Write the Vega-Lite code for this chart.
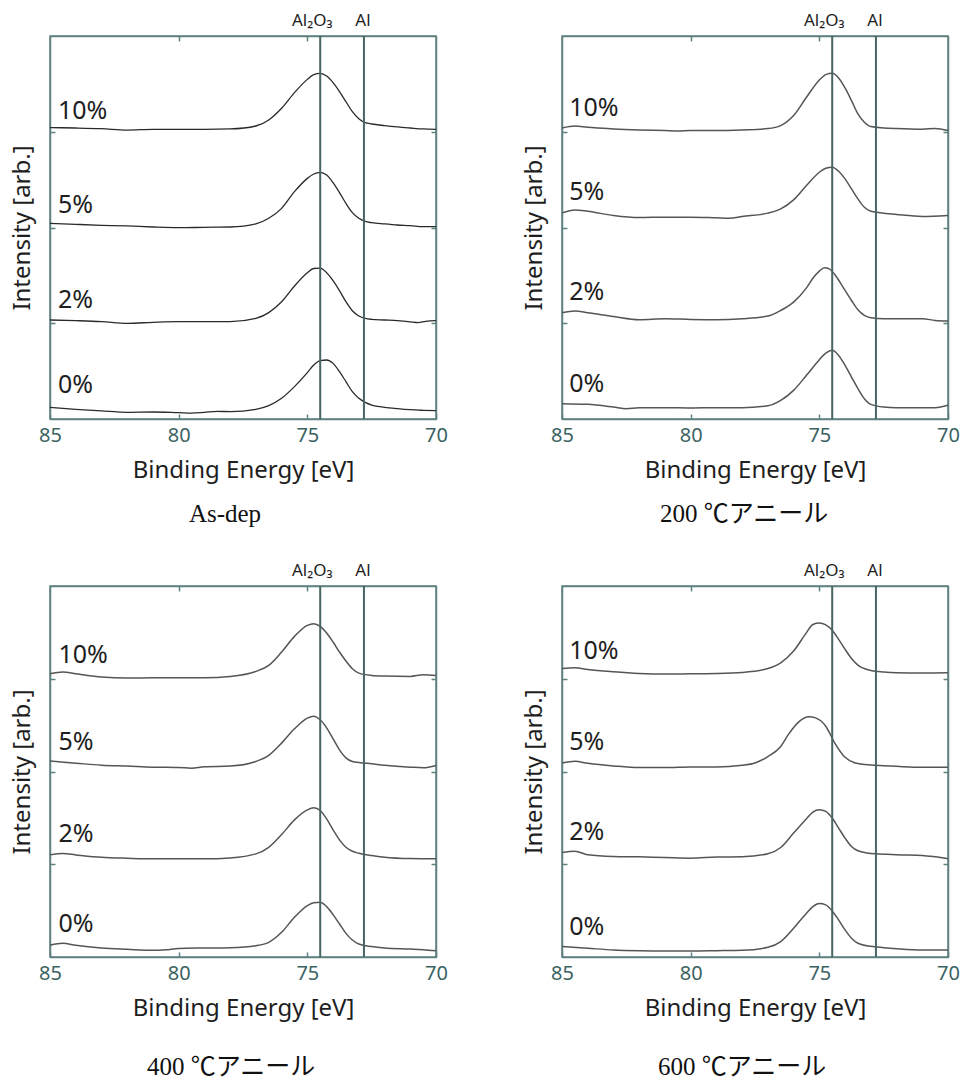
{
  "$schema": "https://vega.github.io/schema/vega-lite/v6.json",
  "background": "white",
  "padding": {"left": 9, "top": 11, "right": 5, "bottom": 5},
  "config": {
    "view": {"stroke": "#5f8080", "strokeWidth": 1.5},
    "axis": {
      "grid": false,
      "domainColor": "#5f8080", "domainWidth": 1.5,
      "tickColor": "#5f8080", "tickWidth": 1.5,
      "labelFont": "Noto Sans", "titleFont": "Noto Sans",
      "titleFontWeight": "normal", "titleColor": "#1e1e1e"
    },
    "text": {"font": "Noto Sans", "color": "#1e1e1e"}
  },
  "datasets": {
    "refs": [
      {"ref": "Al₂O₃", "e": 74.5},
      {"ref": "Al", "e": 72.8}
    ],
    "labels": [
      {"p": "A", "s": "10%", "e": 84.69, "i": 3.13},
      {"p": "A", "s": "5%", "e": 84.69, "i": 2.155},
      {"p": "A", "s": "2%", "e": 84.69, "i": 1.156},
      {"p": "A", "s": "0%", "e": 84.69, "i": 0.268},
      {"p": "B", "s": "10%", "e": 84.72, "i": 3.169},
      {"p": "B", "s": "5%", "e": 84.72, "i": 2.292},
      {"p": "B", "s": "2%", "e": 84.72, "i": 1.238},
      {"p": "B", "s": "0%", "e": 84.72, "i": 0.282},
      {"p": "C", "s": "10%", "e": 84.67, "i": 3.169},
      {"p": "C", "s": "5%", "e": 84.67, "i": 2.234},
      {"p": "C", "s": "2%", "e": 84.67, "i": 1.237},
      {"p": "C", "s": "0%", "e": 84.67, "i": 0.266},
      {"p": "D", "s": "10%", "e": 84.72, "i": 3.209},
      {"p": "D", "s": "5%", "e": 84.72, "i": 2.236},
      {"p": "D", "s": "2%", "e": 84.72, "i": 1.257},
      {"p": "D", "s": "0%", "e": 84.72, "i": 0.238}
    ],
    "spectra": [
      {"p":"A","s":"10%","e":85,"i":3.043},{"p":"A","s":"10%","e":84,"i":3.039},{"p":"A","s":"10%","e":83,"i":3.032},{"p":"A","s":"10%","e":82,"i":3.018},{"p":"A","s":"10%","e":81,"i":3.025},{"p":"A","s":"10%","e":80,"i":3.025},{"p":"A","s":"10%","e":79,"i":3.025},{"p":"A","s":"10%","e":78,"i":3.029},{"p":"A","s":"10%","e":77,"i":3.06},{"p":"A","s":"10%","e":76.5,"i":3.123},{"p":"A","s":"10%","e":76,"i":3.245},{"p":"A","s":"10%","e":75.5,"i":3.408},{"p":"A","s":"10%","e":75,"i":3.547},{"p":"A","s":"10%","e":74.75,"i":3.596},{"p":"A","s":"10%","e":74.5,"i":3.61},{"p":"A","s":"10%","e":74.25,"i":3.582},{"p":"A","s":"10%","e":74,"i":3.513},{"p":"A","s":"10%","e":73.75,"i":3.419},{"p":"A","s":"10%","e":73.5,"i":3.314},{"p":"A","s":"10%","e":73.25,"i":3.21},{"p":"A","s":"10%","e":73,"i":3.137},{"p":"A","s":"10%","e":72.75,"i":3.095},{"p":"A","s":"10%","e":72.5,"i":3.081},{"p":"A","s":"10%","e":72,"i":3.064},{"p":"A","s":"10%","e":71.5,"i":3.05},{"p":"A","s":"10%","e":71,"i":3.039},{"p":"A","s":"10%","e":70.5,"i":3.029},{"p":"A","s":"10%","e":70,"i":3.025},
      {"p":"A","s":"5%","e":85,"i":2.044},{"p":"A","s":"5%","e":84,"i":2.033},{"p":"A","s":"5%","e":83,"i":2.023},{"p":"A","s":"5%","e":82,"i":2.016},{"p":"A","s":"5%","e":81,"i":2.005},{"p":"A","s":"5%","e":80,"i":1.998},{"p":"A","s":"5%","e":79,"i":2.002},{"p":"A","s":"5%","e":78,"i":2.005},{"p":"A","s":"5%","e":77,"i":2.037},{"p":"A","s":"5%","e":76.5,"i":2.096},{"p":"A","s":"5%","e":76,"i":2.2},{"p":"A","s":"5%","e":75.5,"i":2.374},{"p":"A","s":"5%","e":75,"i":2.513},{"p":"A","s":"5%","e":74.75,"i":2.559},{"p":"A","s":"5%","e":74.5,"i":2.576},{"p":"A","s":"5%","e":74.25,"i":2.548},{"p":"A","s":"5%","e":74,"i":2.468},{"p":"A","s":"5%","e":73.75,"i":2.364},{"p":"A","s":"5%","e":73.5,"i":2.252},{"p":"A","s":"5%","e":73.25,"i":2.155},{"p":"A","s":"5%","e":73,"i":2.096},{"p":"A","s":"5%","e":72.75,"i":2.064},{"p":"A","s":"5%","e":72.5,"i":2.05},{"p":"A","s":"5%","e":72,"i":2.037},{"p":"A","s":"5%","e":71.5,"i":2.026},{"p":"A","s":"5%","e":71,"i":2.019},{"p":"A","s":"5%","e":70.5,"i":2.009},{"p":"A","s":"5%","e":70,"i":2.009},
      {"p":"A","s":"2%","e":85,"i":1.034},{"p":"A","s":"2%","e":84,"i":1.027},{"p":"A","s":"2%","e":83,"i":1.017},{"p":"A","s":"2%","e":82,"i":0.999},{"p":"A","s":"2%","e":81,"i":1.01},{"p":"A","s":"2%","e":80,"i":1.017},{"p":"A","s":"2%","e":79,"i":1.017},{"p":"A","s":"2%","e":78,"i":1.017},{"p":"A","s":"2%","e":77,"i":1.051},{"p":"A","s":"2%","e":76.5,"i":1.111},{"p":"A","s":"2%","e":76,"i":1.225},{"p":"A","s":"2%","e":75.5,"i":1.389},{"p":"A","s":"2%","e":75,"i":1.528},{"p":"A","s":"2%","e":74.75,"i":1.572},{"p":"A","s":"2%","e":74.5,"i":1.575},{"p":"A","s":"2%","e":74.25,"i":1.528},{"p":"A","s":"2%","e":74,"i":1.445},{"p":"A","s":"2%","e":73.75,"i":1.34},{"p":"A","s":"2%","e":73.5,"i":1.225},{"p":"A","s":"2%","e":73.25,"i":1.131},{"p":"A","s":"2%","e":73,"i":1.076},{"p":"A","s":"2%","e":72.75,"i":1.051},{"p":"A","s":"2%","e":72.5,"i":1.041},{"p":"A","s":"2%","e":72,"i":1.034},{"p":"A","s":"2%","e":71.5,"i":1.027},{"p":"A","s":"2%","e":71,"i":1.015},{"p":"A","s":"2%","e":70.7,"i":1.006},{"p":"A","s":"2%","e":70.4,"i":1.02},{"p":"A","s":"2%","e":70,"i":1.027},
      {"p":"A","s":"0%","e":85,"i":0.122},{"p":"A","s":"0%","e":84,"i":0.101},{"p":"A","s":"0%","e":83,"i":0.084},{"p":"A","s":"0%","e":82,"i":0.07},{"p":"A","s":"0%","e":81,"i":0.073},{"p":"A","s":"0%","e":80,"i":0.066},{"p":"A","s":"0%","e":79.5,"i":0.062},{"p":"A","s":"0%","e":79,"i":0.07},{"p":"A","s":"0%","e":78.5,"i":0.08},{"p":"A","s":"0%","e":78,"i":0.077},{"p":"A","s":"0%","e":77,"i":0.101},{"p":"A","s":"0%","e":76.5,"i":0.139},{"p":"A","s":"0%","e":76,"i":0.216},{"p":"A","s":"0%","e":75.5,"i":0.338},{"p":"A","s":"0%","e":75,"i":0.484},{"p":"A","s":"0%","e":74.75,"i":0.564},{"p":"A","s":"0%","e":74.5,"i":0.609},{"p":"A","s":"0%","e":74.25,"i":0.616},{"p":"A","s":"0%","e":74,"i":0.581},{"p":"A","s":"0%","e":73.75,"i":0.494},{"p":"A","s":"0%","e":73.5,"i":0.39},{"p":"A","s":"0%","e":73.25,"i":0.285},{"p":"A","s":"0%","e":73,"i":0.216},{"p":"A","s":"0%","e":72.75,"i":0.174},{"p":"A","s":"0%","e":72.5,"i":0.146},{"p":"A","s":"0%","e":72,"i":0.122},{"p":"A","s":"0%","e":71.5,"i":0.108},{"p":"A","s":"0%","e":71,"i":0.097},{"p":"A","s":"0%","e":70.5,"i":0.091},{"p":"A","s":"0%","e":70,"i":0.087},
      {"p":"B","s":"10%","e":85,"i":3.04},{"p":"B","s":"10%","e":84.5,"i":3.061},{"p":"B","s":"10%","e":84,"i":3.047},{"p":"B","s":"10%","e":83,"i":3.03},{"p":"B","s":"10%","e":82,"i":3.019},{"p":"B","s":"10%","e":81,"i":3.012},{"p":"B","s":"10%","e":80.5,"i":3.007},{"p":"B","s":"10%","e":80,"i":3.012},{"p":"B","s":"10%","e":79,"i":3.012},{"p":"B","s":"10%","e":78,"i":3.019},{"p":"B","s":"10%","e":77,"i":3.033},{"p":"B","s":"10%","e":76.5,"i":3.064},{"p":"B","s":"10%","e":76,"i":3.169},{"p":"B","s":"10%","e":75.5,"i":3.36},{"p":"B","s":"10%","e":75,"i":3.54},{"p":"B","s":"10%","e":74.75,"i":3.597},{"p":"B","s":"10%","e":74.5,"i":3.61},{"p":"B","s":"10%","e":74.25,"i":3.562},{"p":"B","s":"10%","e":74,"i":3.457},{"p":"B","s":"10%","e":73.75,"i":3.325},{"p":"B","s":"10%","e":73.5,"i":3.186},{"p":"B","s":"10%","e":73.25,"i":3.099},{"p":"B","s":"10%","e":73,"i":3.054},{"p":"B","s":"10%","e":72.5,"i":3.04},{"p":"B","s":"10%","e":72,"i":3.033},{"p":"B","s":"10%","e":71,"i":3.026},{"p":"B","s":"10%","e":70.5,"i":3.035},{"p":"B","s":"10%","e":70,"i":3.012},
      {"p":"B","s":"5%","e":85,"i":2.153},{"p":"B","s":"5%","e":84.5,"i":2.184},{"p":"B","s":"5%","e":84,"i":2.17},{"p":"B","s":"5%","e":83,"i":2.125},{"p":"B","s":"5%","e":82,"i":2.104},{"p":"B","s":"5%","e":81,"i":2.108},{"p":"B","s":"5%","e":80,"i":2.108},{"p":"B","s":"5%","e":79,"i":2.101},{"p":"B","s":"5%","e":78.5,"i":2.097},{"p":"B","s":"5%","e":78,"i":2.115},{"p":"B","s":"5%","e":77,"i":2.15},{"p":"B","s":"5%","e":76.5,"i":2.195},{"p":"B","s":"5%","e":76,"i":2.289},{"p":"B","s":"5%","e":75.5,"i":2.438},{"p":"B","s":"5%","e":75,"i":2.577},{"p":"B","s":"5%","e":74.75,"i":2.619},{"p":"B","s":"5%","e":74.5,"i":2.63},{"p":"B","s":"5%","e":74.25,"i":2.588},{"p":"B","s":"5%","e":74,"i":2.508},{"p":"B","s":"5%","e":73.75,"i":2.403},{"p":"B","s":"5%","e":73.5,"i":2.299},{"p":"B","s":"5%","e":73.25,"i":2.212},{"p":"B","s":"5%","e":73,"i":2.17},{"p":"B","s":"5%","e":72.5,"i":2.15},{"p":"B","s":"5%","e":72,"i":2.136},{"p":"B","s":"5%","e":71,"i":2.115},{"p":"B","s":"5%","e":70,"i":2.125},
      {"p":"B","s":"2%","e":85,"i":1.11},{"p":"B","s":"2%","e":84.5,"i":1.127},{"p":"B","s":"2%","e":84,"i":1.11},{"p":"B","s":"2%","e":83,"i":1.071},{"p":"B","s":"2%","e":82,"i":1.037},{"p":"B","s":"2%","e":81,"i":1.047},{"p":"B","s":"2%","e":80,"i":1.04},{"p":"B","s":"2%","e":79,"i":1.037},{"p":"B","s":"2%","e":78,"i":1.047},{"p":"B","s":"2%","e":77,"i":1.075},{"p":"B","s":"2%","e":76.5,"i":1.134},{"p":"B","s":"2%","e":76,"i":1.221},{"p":"B","s":"2%","e":75.5,"i":1.37},{"p":"B","s":"2%","e":75.25,"i":1.47},{"p":"B","s":"2%","e":75,"i":1.545},{"p":"B","s":"2%","e":74.8,"i":1.58},{"p":"B","s":"2%","e":74.6,"i":1.566},{"p":"B","s":"2%","e":74.4,"i":1.51},{"p":"B","s":"2%","e":74.2,"i":1.43},{"p":"B","s":"2%","e":74,"i":1.343},{"p":"B","s":"2%","e":73.75,"i":1.238},{"p":"B","s":"2%","e":73.5,"i":1.141},{"p":"B","s":"2%","e":73.25,"i":1.082},{"p":"B","s":"2%","e":73,"i":1.057},{"p":"B","s":"2%","e":72.5,"i":1.047},{"p":"B","s":"2%","e":72,"i":1.047},{"p":"B","s":"2%","e":71,"i":1.047},{"p":"B","s":"2%","e":70.5,"i":1.03},{"p":"B","s":"2%","e":70,"i":1.023},
      {"p":"B","s":"0%","e":85,"i":0.16},{"p":"B","s":"0%","e":84,"i":0.153},{"p":"B","s":"0%","e":83,"i":0.125},{"p":"B","s":"0%","e":82.5,"i":0.108},{"p":"B","s":"0%","e":82,"i":0.118},{"p":"B","s":"0%","e":81,"i":0.118},{"p":"B","s":"0%","e":80,"i":0.115},{"p":"B","s":"0%","e":79,"i":0.118},{"p":"B","s":"0%","e":78,"i":0.118},{"p":"B","s":"0%","e":77,"i":0.139},{"p":"B","s":"0%","e":76.5,"i":0.195},{"p":"B","s":"0%","e":76,"i":0.299},{"p":"B","s":"0%","e":75.5,"i":0.456},{"p":"B","s":"0%","e":75,"i":0.619},{"p":"B","s":"0%","e":74.75,"i":0.689},{"p":"B","s":"0%","e":74.5,"i":0.717},{"p":"B","s":"0%","e":74.25,"i":0.664},{"p":"B","s":"0%","e":74,"i":0.56},{"p":"B","s":"0%","e":73.75,"i":0.438},{"p":"B","s":"0%","e":73.5,"i":0.317},{"p":"B","s":"0%","e":73.25,"i":0.212},{"p":"B","s":"0%","e":73,"i":0.153},{"p":"B","s":"0%","e":72.5,"i":0.125},{"p":"B","s":"0%","e":72,"i":0.118},{"p":"B","s":"0%","e":71,"i":0.118},{"p":"B","s":"0%","e":70.5,"i":0.118},{"p":"B","s":"0%","e":70,"i":0.143},
      {"p":"C","s":"10%","e":85,"i":3.054},{"p":"C","s":"10%","e":84.5,"i":3.072},{"p":"C","s":"10%","e":84,"i":3.054},{"p":"C","s":"10%","e":83,"i":3.018},{"p":"C","s":"10%","e":82,"i":3.007},{"p":"C","s":"10%","e":81,"i":3.011},{"p":"C","s":"10%","e":80,"i":3.011},{"p":"C","s":"10%","e":79,"i":3.011},{"p":"C","s":"10%","e":78,"i":3.025},{"p":"C","s":"10%","e":77,"i":3.079},{"p":"C","s":"10%","e":76.5,"i":3.144},{"p":"C","s":"10%","e":76,"i":3.288},{"p":"C","s":"10%","e":75.5,"i":3.457},{"p":"C","s":"10%","e":75,"i":3.576},{"p":"C","s":"10%","e":74.75,"i":3.594},{"p":"C","s":"10%","e":74.5,"i":3.565},{"p":"C","s":"10%","e":74.25,"i":3.493},{"p":"C","s":"10%","e":74,"i":3.396},{"p":"C","s":"10%","e":73.75,"i":3.288},{"p":"C","s":"10%","e":73.5,"i":3.191},{"p":"C","s":"10%","e":73.25,"i":3.108},{"p":"C","s":"10%","e":73,"i":3.061},{"p":"C","s":"10%","e":72.5,"i":3.036},{"p":"C","s":"10%","e":72,"i":3.029},{"p":"C","s":"10%","e":71,"i":3.025},{"p":"C","s":"10%","e":70.5,"i":3.043},{"p":"C","s":"10%","e":70,"i":3.036},
      {"p":"C","s":"5%","e":85,"i":2.112},{"p":"C","s":"5%","e":84,"i":2.09},{"p":"C","s":"5%","e":83,"i":2.068},{"p":"C","s":"5%","e":82,"i":2.058},{"p":"C","s":"5%","e":81,"i":2.047},{"p":"C","s":"5%","e":80,"i":2.043},{"p":"C","s":"5%","e":79.5,"i":2.036},{"p":"C","s":"5%","e":79,"i":2.052},{"p":"C","s":"5%","e":78,"i":2.058},{"p":"C","s":"5%","e":77,"i":2.108},{"p":"C","s":"5%","e":76.5,"i":2.173},{"p":"C","s":"5%","e":76,"i":2.306},{"p":"C","s":"5%","e":75.5,"i":2.46},{"p":"C","s":"5%","e":75,"i":2.576},{"p":"C","s":"5%","e":74.75,"i":2.597},{"p":"C","s":"5%","e":74.5,"i":2.558},{"p":"C","s":"5%","e":74.25,"i":2.471},{"p":"C","s":"5%","e":74,"i":2.353},{"p":"C","s":"5%","e":73.75,"i":2.234},{"p":"C","s":"5%","e":73.5,"i":2.147},{"p":"C","s":"5%","e":73.25,"i":2.108},{"p":"C","s":"5%","e":73,"i":2.097},{"p":"C","s":"5%","e":72.5,"i":2.083},{"p":"C","s":"5%","e":72,"i":2.068},{"p":"C","s":"5%","e":71,"i":2.047},{"p":"C","s":"5%","e":70.5,"i":2.04},{"p":"C","s":"5%","e":70,"i":2.065},
      {"p":"C","s":"2%","e":85,"i":1.101},{"p":"C","s":"2%","e":84.5,"i":1.115},{"p":"C","s":"2%","e":84,"i":1.101},{"p":"C","s":"2%","e":83,"i":1.076},{"p":"C","s":"2%","e":82,"i":1.065},{"p":"C","s":"2%","e":81,"i":1.058},{"p":"C","s":"2%","e":80,"i":1.058},{"p":"C","s":"2%","e":79,"i":1.058},{"p":"C","s":"2%","e":78,"i":1.068},{"p":"C","s":"2%","e":77,"i":1.112},{"p":"C","s":"2%","e":76.5,"i":1.183},{"p":"C","s":"2%","e":76,"i":1.32},{"p":"C","s":"2%","e":75.5,"i":1.478},{"p":"C","s":"2%","e":75,"i":1.586},{"p":"C","s":"2%","e":74.75,"i":1.608},{"p":"C","s":"2%","e":74.5,"i":1.579},{"p":"C","s":"2%","e":74.25,"i":1.489},{"p":"C","s":"2%","e":74,"i":1.371},{"p":"C","s":"2%","e":73.75,"i":1.263},{"p":"C","s":"2%","e":73.5,"i":1.183},{"p":"C","s":"2%","e":73.25,"i":1.14},{"p":"C","s":"2%","e":73,"i":1.119},{"p":"C","s":"2%","e":72.5,"i":1.094},{"p":"C","s":"2%","e":72,"i":1.076},{"p":"C","s":"2%","e":71,"i":1.061},{"p":"C","s":"2%","e":70,"i":1.058},
      {"p":"C","s":"0%","e":85,"i":0.126},{"p":"C","s":"0%","e":84.5,"i":0.147},{"p":"C","s":"0%","e":84,"i":0.126},{"p":"C","s":"0%","e":83,"i":0.097},{"p":"C","s":"0%","e":82,"i":0.083},{"p":"C","s":"0%","e":81,"i":0.072},{"p":"C","s":"0%","e":80.5,"i":0.078},{"p":"C","s":"0%","e":80,"i":0.092},{"p":"C","s":"0%","e":79,"i":0.097},{"p":"C","s":"0%","e":78,"i":0.101},{"p":"C","s":"0%","e":77,"i":0.122},{"p":"C","s":"0%","e":76.5,"i":0.158},{"p":"C","s":"0%","e":76,"i":0.266},{"p":"C","s":"0%","e":75.5,"i":0.428},{"p":"C","s":"0%","e":75,"i":0.554},{"p":"C","s":"0%","e":74.75,"i":0.586},{"p":"C","s":"0%","e":74.5,"i":0.59},{"p":"C","s":"0%","e":74.25,"i":0.543},{"p":"C","s":"0%","e":74,"i":0.457},{"p":"C","s":"0%","e":73.75,"i":0.356},{"p":"C","s":"0%","e":73.5,"i":0.255},{"p":"C","s":"0%","e":73.25,"i":0.183},{"p":"C","s":"0%","e":73,"i":0.14},{"p":"C","s":"0%","e":72.5,"i":0.112},{"p":"C","s":"0%","e":72,"i":0.097},{"p":"C","s":"0%","e":71,"i":0.086},{"p":"C","s":"0%","e":70.5,"i":0.079},{"p":"C","s":"0%","e":70,"i":0.068},
      {"p":"D","s":"10%","e":85,"i":3.111},{"p":"D","s":"10%","e":84.5,"i":3.119},{"p":"D","s":"10%","e":84,"i":3.1},{"p":"D","s":"10%","e":83,"i":3.075},{"p":"D","s":"10%","e":82,"i":3.057},{"p":"D","s":"10%","e":81,"i":3.05},{"p":"D","s":"10%","e":80,"i":3.054},{"p":"D","s":"10%","e":79,"i":3.057},{"p":"D","s":"10%","e":78,"i":3.068},{"p":"D","s":"10%","e":77,"i":3.111},{"p":"D","s":"10%","e":76.5,"i":3.172},{"p":"D","s":"10%","e":76,"i":3.299},{"p":"D","s":"10%","e":75.5,"i":3.497},{"p":"D","s":"10%","e":75.25,"i":3.585},{"p":"D","s":"10%","e":75,"i":3.6},{"p":"D","s":"10%","e":74.75,"i":3.58},{"p":"D","s":"10%","e":74.5,"i":3.522},{"p":"D","s":"10%","e":74.25,"i":3.425},{"p":"D","s":"10%","e":74,"i":3.317},{"p":"D","s":"10%","e":73.75,"i":3.219},{"p":"D","s":"10%","e":73.5,"i":3.147},{"p":"D","s":"10%","e":73,"i":3.09},{"p":"D","s":"10%","e":72.5,"i":3.072},{"p":"D","s":"10%","e":72,"i":3.064},{"p":"D","s":"10%","e":71,"i":3.061},{"p":"D","s":"10%","e":70,"i":3.064},
      {"p":"D","s":"5%","e":85,"i":2.092},{"p":"D","s":"5%","e":84.5,"i":2.11},{"p":"D","s":"5%","e":84,"i":2.089},{"p":"D","s":"5%","e":83,"i":2.06},{"p":"D","s":"5%","e":82,"i":2.042},{"p":"D","s":"5%","e":81,"i":2.042},{"p":"D","s":"5%","e":80,"i":2.049},{"p":"D","s":"5%","e":79,"i":2.049},{"p":"D","s":"5%","e":78,"i":2.067},{"p":"D","s":"5%","e":77.5,"i":2.092},{"p":"D","s":"5%","e":77,"i":2.16},{"p":"D","s":"5%","e":76.5,"i":2.27},{"p":"D","s":"5%","e":76.2,"i":2.4},{"p":"D","s":"5%","e":75.8,"i":2.535},{"p":"D","s":"5%","e":75.4,"i":2.589},{"p":"D","s":"5%","e":75.15,"i":2.578},{"p":"D","s":"5%","e":74.75,"i":2.488},{"p":"D","s":"5%","e":74.4,"i":2.307},{"p":"D","s":"5%","e":74,"i":2.153},{"p":"D","s":"5%","e":73.6,"i":2.092},{"p":"D","s":"5%","e":73,"i":2.07},{"p":"D","s":"5%","e":72.5,"i":2.063},{"p":"D","s":"5%","e":72,"i":2.056},{"p":"D","s":"5%","e":71,"i":2.045},{"p":"D","s":"5%","e":70,"i":2.045},
      {"p":"D","s":"2%","e":85,"i":1.127},{"p":"D","s":"2%","e":84.5,"i":1.14},{"p":"D","s":"2%","e":84,"i":1.102},{"p":"D","s":"2%","e":83,"i":1.084},{"p":"D","s":"2%","e":82,"i":1.08},{"p":"D","s":"2%","e":81,"i":1.073},{"p":"D","s":"2%","e":80,"i":1.066},{"p":"D","s":"2%","e":79,"i":1.077},{"p":"D","s":"2%","e":78,"i":1.08},{"p":"D","s":"2%","e":77,"i":1.113},{"p":"D","s":"2%","e":76.5,"i":1.181},{"p":"D","s":"2%","e":76,"i":1.336},{"p":"D","s":"2%","e":75.5,"i":1.491},{"p":"D","s":"2%","e":75.25,"i":1.563},{"p":"D","s":"2%","e":75,"i":1.588},{"p":"D","s":"2%","e":74.75,"i":1.57},{"p":"D","s":"2%","e":74.5,"i":1.498},{"p":"D","s":"2%","e":74.25,"i":1.39},{"p":"D","s":"2%","e":74,"i":1.282},{"p":"D","s":"2%","e":73.75,"i":1.192},{"p":"D","s":"2%","e":73.5,"i":1.145},{"p":"D","s":"2%","e":73,"i":1.116},{"p":"D","s":"2%","e":72.5,"i":1.109},{"p":"D","s":"2%","e":72,"i":1.102},{"p":"D","s":"2%","e":71,"i":1.095},{"p":"D","s":"2%","e":70.5,"i":1.08},{"p":"D","s":"2%","e":70,"i":1.059},
      {"p":"D","s":"0%","e":85,"i":0.112},{"p":"D","s":"0%","e":84,"i":0.094},{"p":"D","s":"0%","e":83,"i":0.076},{"p":"D","s":"0%","e":82,"i":0.068},{"p":"D","s":"0%","e":81,"i":0.065},{"p":"D","s":"0%","e":80,"i":0.065},{"p":"D","s":"0%","e":79,"i":0.068},{"p":"D","s":"0%","e":78,"i":0.072},{"p":"D","s":"0%","e":77,"i":0.104},{"p":"D","s":"0%","e":76.5,"i":0.166},{"p":"D","s":"0%","e":76,"i":0.31},{"p":"D","s":"0%","e":75.5,"i":0.472},{"p":"D","s":"0%","e":75.25,"i":0.544},{"p":"D","s":"0%","e":75,"i":0.576},{"p":"D","s":"0%","e":74.75,"i":0.562},{"p":"D","s":"0%","e":74.5,"i":0.497},{"p":"D","s":"0%","e":74.25,"i":0.4},{"p":"D","s":"0%","e":74,"i":0.292},{"p":"D","s":"0%","e":73.75,"i":0.202},{"p":"D","s":"0%","e":73.5,"i":0.148},{"p":"D","s":"0%","e":73,"i":0.115},{"p":"D","s":"0%","e":72.5,"i":0.101},{"p":"D","s":"0%","e":72,"i":0.09},{"p":"D","s":"0%","e":71,"i":0.076},{"p":"D","s":"0%","e":70,"i":0.076}
    ]
  },
  "columns": 2,
  "bounds": "flush",
  "spacing": {"row": 167, "column": 126},
  "concat": [
    {
      "width": 386, "height": 383,
      "title": {"text": "As-dep", "orient": "bottom", "offset": 20, "dx": -18, "baseline": "top", "font": "Liberation Serif, Noto Sans CJK JP", "fontSize": 25, "fontWeight": "normal", "color": "#111"},
      "resolve": {"axis": {"x": "independent", "y": "independent"}},
      "layer": [
        {"data": {"name": "spectra"}, "transform": [{"filter": "datum.p === 'A'"}],
         "mark": {"type": "line", "interpolate": "monotone", "color": "#2a2a2a", "strokeWidth": 1.3},
         "encoding": {
           "x": {"field": "e", "type": "quantitative", "scale": {"domain": [70, 85], "reverse": true},
                 "axis": {"orient": "bottom", "values": [85, 80, 75, 70], "format": "d", "tickSize": -5, "labelPadding": 11, "labelFlush": false, "labelFontSize": 20, "labelColor": "#3b6363", "title": "Binding Energy [eV]", "titleFontSize": 24, "titlePadding": 13}},
           "y": {"field": "i", "type": "quantitative", "scale": {"domain": [0, 4]},
                 "axis": {"orient": "left", "values": [1, 2, 3], "tickSize": -5, "labels": false, "title": "Intensity [arb.]", "titleFontSize": 24, "titlePadding": 15}},
           "detail": {"field": "s"}}},
        {"data": {"name": "refs"},
         "mark": {"type": "rule", "color": "#486565", "strokeWidth": 2},
         "encoding": {"x": {"field": "e", "type": "quantitative", "scale": {"domain": [70, 85], "reverse": true},
                 "axis": {"orient": "top", "values": [80, 75], "tickSize": -5, "labels": false, "title": null}}}},
        {"data": {"name": "refs"}, "transform": [{"filter": "datum.ref === 'Al₂O₃'"}],
         "mark": {"type": "text", "fontSize": 17, "baseline": "alphabetic", "dx": -8, "dy": -10},
         "encoding": {"x": {"field": "e", "type": "quantitative", "scale": {"domain": [70, 85], "reverse": true}, "axis": null},
                      "y": {"datum": 4, "type": "quantitative", "scale": {"domain": [0, 4]}, "axis": null},
                      "text": {"field": "ref"}}},
        {"data": {"name": "refs"}, "transform": [{"filter": "datum.ref === 'Al'"}],
         "mark": {"type": "text", "fontSize": 17, "baseline": "alphabetic", "dx": -1, "dy": -10},
         "encoding": {"x": {"field": "e", "type": "quantitative", "scale": {"domain": [70, 85], "reverse": true}, "axis": null},
                      "y": {"datum": 4, "type": "quantitative", "scale": {"domain": [0, 4]}, "axis": null},
                      "text": {"field": "ref"}}},
        {"data": {"name": "labels"}, "transform": [{"filter": "datum.p === 'A'"}],
         "mark": {"type": "text", "fontSize": 25, "align": "left", "baseline": "alphabetic"},
         "encoding": {"x": {"field": "e", "type": "quantitative", "scale": {"domain": [70, 85], "reverse": true}, "axis": null},
                      "y": {"field": "i", "type": "quantitative", "scale": {"domain": [0, 4]},
                            "axis": {"orient": "right", "values": [1, 2, 3], "tickSize": -5, "labels": false, "title": null}},
                      "text": {"field": "s"}}}
      ]
    },
    {
      "width": 386, "height": 383,
      "title": {"text": "200 ℃アニール", "orient": "bottom", "offset": 20, "dx": -11, "baseline": "top", "font": "Liberation Serif, Noto Sans CJK JP", "fontSize": 25, "fontWeight": "normal", "color": "#111"},
      "resolve": {"axis": {"x": "independent", "y": "independent"}},
      "layer": [
        {"data": {"name": "spectra"}, "transform": [{"filter": "datum.p === 'B'"}],
         "mark": {"type": "line", "interpolate": "monotone", "color": "#555555", "strokeWidth": 1.5},
         "encoding": {
           "x": {"field": "e", "type": "quantitative", "scale": {"domain": [70, 85], "reverse": true},
                 "axis": {"orient": "bottom", "values": [85, 80, 75, 70], "format": "d", "tickSize": -5, "labelPadding": 11, "labelFlush": false, "labelFontSize": 20, "labelColor": "#3b6363", "title": "Binding Energy [eV]", "titleFontSize": 24, "titlePadding": 13}},
           "y": {"field": "i", "type": "quantitative", "scale": {"domain": [0, 4]},
                 "axis": {"orient": "left", "values": [1, 2, 3], "tickSize": -5, "labels": false, "title": "Intensity [arb.]", "titleFontSize": 24, "titlePadding": 15}},
           "detail": {"field": "s"}}},
        {"data": {"name": "refs"},
         "mark": {"type": "rule", "color": "#486565", "strokeWidth": 2},
         "encoding": {"x": {"field": "e", "type": "quantitative", "scale": {"domain": [70, 85], "reverse": true},
                 "axis": {"orient": "top", "values": [80, 75], "tickSize": -5, "labels": false, "title": null}}}},
        {"data": {"name": "refs"}, "transform": [{"filter": "datum.ref === 'Al₂O₃'"}],
         "mark": {"type": "text", "fontSize": 17, "baseline": "alphabetic", "dx": -8, "dy": -10},
         "encoding": {"x": {"field": "e", "type": "quantitative", "scale": {"domain": [70, 85], "reverse": true}, "axis": null},
                      "y": {"datum": 4, "type": "quantitative", "scale": {"domain": [0, 4]}, "axis": null},
                      "text": {"field": "ref"}}},
        {"data": {"name": "refs"}, "transform": [{"filter": "datum.ref === 'Al'"}],
         "mark": {"type": "text", "fontSize": 17, "baseline": "alphabetic", "dx": -1, "dy": -10},
         "encoding": {"x": {"field": "e", "type": "quantitative", "scale": {"domain": [70, 85], "reverse": true}, "axis": null},
                      "y": {"datum": 4, "type": "quantitative", "scale": {"domain": [0, 4]}, "axis": null},
                      "text": {"field": "ref"}}},
        {"data": {"name": "labels"}, "transform": [{"filter": "datum.p === 'B'"}],
         "mark": {"type": "text", "fontSize": 25, "align": "left", "baseline": "alphabetic"},
         "encoding": {"x": {"field": "e", "type": "quantitative", "scale": {"domain": [70, 85], "reverse": true}, "axis": null},
                      "y": {"field": "i", "type": "quantitative", "scale": {"domain": [0, 4]},
                            "axis": {"orient": "right", "values": [1, 2, 3], "tickSize": -5, "labels": false, "title": null}},
                      "text": {"field": "s"}}}
      ]
    },
    {
      "width": 386, "height": 371,
      "title": {"text": "400 ℃アニール", "orient": "bottom", "offset": 35, "dx": -12, "baseline": "top", "font": "Liberation Serif, Noto Sans CJK JP", "fontSize": 25, "fontWeight": "normal", "color": "#111"},
      "resolve": {"axis": {"x": "independent", "y": "independent"}},
      "layer": [
        {"data": {"name": "spectra"}, "transform": [{"filter": "datum.p === 'C'"}],
         "mark": {"type": "line", "interpolate": "monotone", "color": "#555555", "strokeWidth": 1.5},
         "encoding": {
           "x": {"field": "e", "type": "quantitative", "scale": {"domain": [70, 85], "reverse": true},
                 "axis": {"orient": "bottom", "values": [85, 80, 75, 70], "format": "d", "tickSize": -5, "labelPadding": 11, "labelFlush": false, "labelFontSize": 20, "labelColor": "#3b6363", "title": "Binding Energy [eV]", "titleFontSize": 24, "titlePadding": 13}},
           "y": {"field": "i", "type": "quantitative", "scale": {"domain": [0, 4]},
                 "axis": {"orient": "left", "values": [1, 2, 3], "tickSize": -5, "labels": false, "title": "Intensity [arb.]", "titleFontSize": 24, "titlePadding": 15}},
           "detail": {"field": "s"}}},
        {"data": {"name": "refs"},
         "mark": {"type": "rule", "color": "#486565", "strokeWidth": 2},
         "encoding": {"x": {"field": "e", "type": "quantitative", "scale": {"domain": [70, 85], "reverse": true},
                 "axis": {"orient": "top", "values": [80, 75], "tickSize": -5, "labels": false, "title": null}}}},
        {"data": {"name": "refs"}, "transform": [{"filter": "datum.ref === 'Al₂O₃'"}],
         "mark": {"type": "text", "fontSize": 17, "baseline": "alphabetic", "dx": -8, "dy": -10},
         "encoding": {"x": {"field": "e", "type": "quantitative", "scale": {"domain": [70, 85], "reverse": true}, "axis": null},
                      "y": {"datum": 4, "type": "quantitative", "scale": {"domain": [0, 4]}, "axis": null},
                      "text": {"field": "ref"}}},
        {"data": {"name": "refs"}, "transform": [{"filter": "datum.ref === 'Al'"}],
         "mark": {"type": "text", "fontSize": 17, "baseline": "alphabetic", "dx": -1, "dy": -10},
         "encoding": {"x": {"field": "e", "type": "quantitative", "scale": {"domain": [70, 85], "reverse": true}, "axis": null},
                      "y": {"datum": 4, "type": "quantitative", "scale": {"domain": [0, 4]}, "axis": null},
                      "text": {"field": "ref"}}},
        {"data": {"name": "labels"}, "transform": [{"filter": "datum.p === 'C'"}],
         "mark": {"type": "text", "fontSize": 25, "align": "left", "baseline": "alphabetic"},
         "encoding": {"x": {"field": "e", "type": "quantitative", "scale": {"domain": [70, 85], "reverse": true}, "axis": null},
                      "y": {"field": "i", "type": "quantitative", "scale": {"domain": [0, 4]},
                            "axis": {"orient": "right", "values": [1, 2, 3], "tickSize": -5, "labels": false, "title": null}},
                      "text": {"field": "s"}}}
      ]
    },
    {
      "width": 386, "height": 371,
      "title": {"text": "600 ℃アニール", "orient": "bottom", "offset": 35, "dx": -13, "baseline": "top", "font": "Liberation Serif, Noto Sans CJK JP", "fontSize": 25, "fontWeight": "normal", "color": "#111"},
      "resolve": {"axis": {"x": "independent", "y": "independent"}},
      "layer": [
        {"data": {"name": "spectra"}, "transform": [{"filter": "datum.p === 'D'"}],
         "mark": {"type": "line", "interpolate": "monotone", "color": "#555555", "strokeWidth": 1.5},
         "encoding": {
           "x": {"field": "e", "type": "quantitative", "scale": {"domain": [70, 85], "reverse": true},
                 "axis": {"orient": "bottom", "values": [85, 80, 75, 70], "format": "d", "tickSize": -5, "labelPadding": 11, "labelFlush": false, "labelFontSize": 20, "labelColor": "#3b6363", "title": "Binding Energy [eV]", "titleFontSize": 24, "titlePadding": 13}},
           "y": {"field": "i", "type": "quantitative", "scale": {"domain": [0, 4]},
                 "axis": {"orient": "left", "values": [1, 2, 3], "tickSize": -5, "labels": false, "title": "Intensity [arb.]", "titleFontSize": 24, "titlePadding": 15}},
           "detail": {"field": "s"}}},
        {"data": {"name": "refs"},
         "mark": {"type": "rule", "color": "#486565", "strokeWidth": 2},
         "encoding": {"x": {"field": "e", "type": "quantitative", "scale": {"domain": [70, 85], "reverse": true},
                 "axis": {"orient": "top", "values": [80, 75], "tickSize": -5, "labels": false, "title": null}}}},
        {"data": {"name": "refs"}, "transform": [{"filter": "datum.ref === 'Al₂O₃'"}],
         "mark": {"type": "text", "fontSize": 17, "baseline": "alphabetic", "dx": -8, "dy": -10},
         "encoding": {"x": {"field": "e", "type": "quantitative", "scale": {"domain": [70, 85], "reverse": true}, "axis": null},
                      "y": {"datum": 4, "type": "quantitative", "scale": {"domain": [0, 4]}, "axis": null},
                      "text": {"field": "ref"}}},
        {"data": {"name": "refs"}, "transform": [{"filter": "datum.ref === 'Al'"}],
         "mark": {"type": "text", "fontSize": 17, "baseline": "alphabetic", "dx": -1, "dy": -10},
         "encoding": {"x": {"field": "e", "type": "quantitative", "scale": {"domain": [70, 85], "reverse": true}, "axis": null},
                      "y": {"datum": 4, "type": "quantitative", "scale": {"domain": [0, 4]}, "axis": null},
                      "text": {"field": "ref"}}},
        {"data": {"name": "labels"}, "transform": [{"filter": "datum.p === 'D'"}],
         "mark": {"type": "text", "fontSize": 25, "align": "left", "baseline": "alphabetic"},
         "encoding": {"x": {"field": "e", "type": "quantitative", "scale": {"domain": [70, 85], "reverse": true}, "axis": null},
                      "y": {"field": "i", "type": "quantitative", "scale": {"domain": [0, 4]},
                            "axis": {"orient": "right", "values": [1, 2, 3], "tickSize": -5, "labels": false, "title": null}},
                      "text": {"field": "s"}}}
      ]
    }
  ]
}
